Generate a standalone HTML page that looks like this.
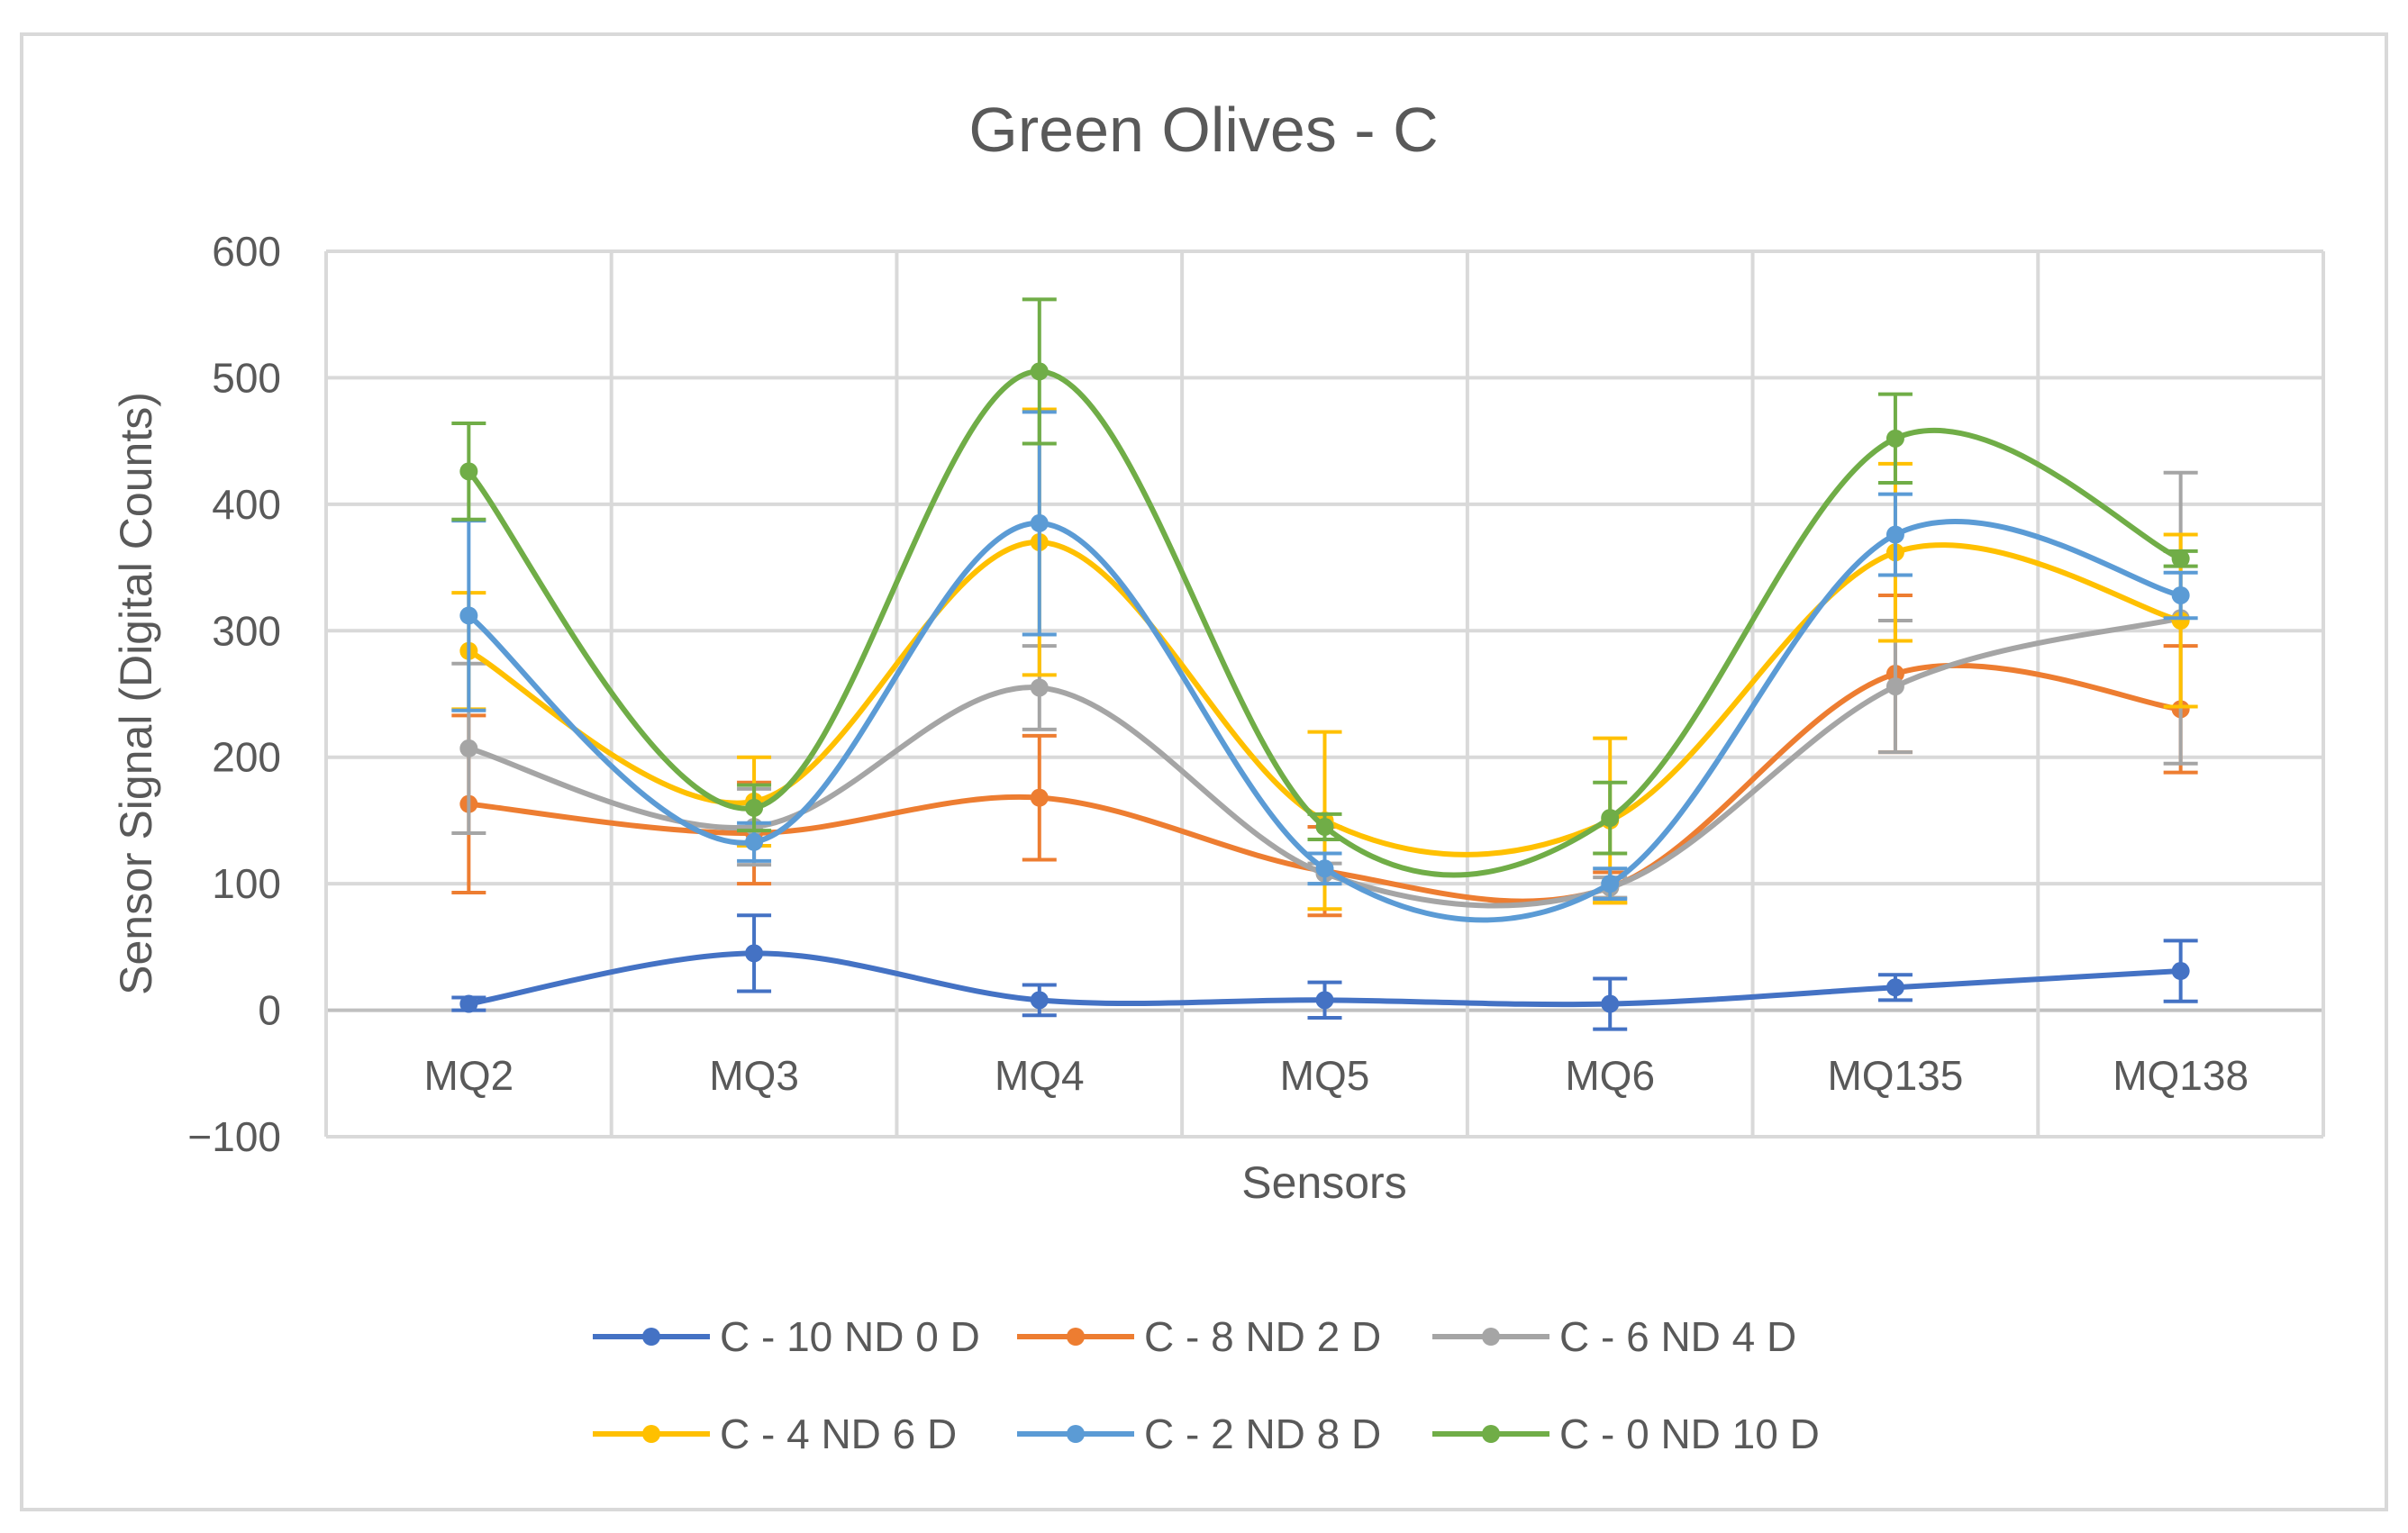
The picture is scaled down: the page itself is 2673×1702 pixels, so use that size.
<!DOCTYPE html>
<html><head><meta charset="utf-8"><style>
html,body{margin:0;padding:0;background:#fff;}
svg{display:block;font-family:"Liberation Sans",sans-serif;}
</style></head><body>
<svg id="chart" width="2673" height="1702" viewBox="0 0 2673 1702">
<rect x="24" y="38" width="2625" height="1638" fill="#fff" stroke="#d9d9d9" stroke-width="4"/>
<text x="1336" y="168" text-anchor="middle" font-size="70" fill="#595959">Green Olives - C</text>
<g id="grid"></g>
<g id="series"></g>
<text transform="translate(168,770) rotate(-90)" text-anchor="middle" font-size="50" fill="#595959">Sensor Signal (Digital Counts)</text>
<text x="1470" y="1330" text-anchor="middle" font-size="50" fill="#595959">Sensors</text>
<g id="legend"></g>
</svg>
<script>
const categories=["MQ2","MQ3","MQ4","MQ5","MQ6","MQ135","MQ138"];
const yTicks=[-100,0,100,200,300,400,500,600];
const seriesNames=["C - 10 ND 0 D","C - 8 ND 2 D","C - 6 ND 4 D","C - 4 ND 6 D","C - 2 ND 8 D","C - 0 ND 10 D"];
const colors=["#4472C4","#ED7D31","#A5A5A5","#FFC000","#5B9BD5","#70AD47"];
const s1=[5,45,8,8,5,18,31];
const s2=[163,140,168,110,97,266,238];
const s3=[207,145,255,108,97,256,310];
const s4=[284,165,370,150,150,362,308];
const s5=[312,133,385,112,100,376,328];
const s6=[426,160,505,145,152,452,357];
const e1=[5,30,12,14,20,10,24];
const e2=[70,40,49,35,12,62,50];
const e3=[67,30,33,8,8,52,115];
const e4=[46,35,105,70,65,70,68];
const e5=[75,15,88,12,12,32,18];
const e6=[38,18,57,10,28,35,6];
const values=[s1,s2,s3,s4,s5,s6];
const errors=[e1,e2,e3,e4,e5,e6];

const NS="http://www.w3.org/2000/svg";
const L=362,R=2579,T=279,B=1262,yMin=-100,yMax=600;
const band=(R-L)/categories.length;
const xs=i=>L+band*(i+0.5);
const ys=v=>B-(v-yMin)/(yMax-yMin)*(B-T);
function mk(tag,attrs,parent){const e=document.createElementNS(NS,tag);for(const k in attrs)e.setAttribute(k,attrs[k]);parent.appendChild(e);return e;}
const grid=document.getElementById('grid');
yTicks.forEach(t=>{
  const ln=mk('line',{x1:L,x2:R,y1:ys(t),y2:ys(t),stroke:t===0?'#bfbfbf':'#d9d9d9','stroke-width':4},grid);
  
  
  const tx=mk('text',{x:312,y:ys(t)+16,'text-anchor':'end','font-size':46,fill:'#595959'},grid);
  tx.textContent=t<0?'\u2212'+Math.abs(t):String(t);
  
  
});
for(let i=0;i<=categories.length;i++){
  const x=L+band*i;
  const ln=mk('line',{x1:x,x2:x,y1:T,y2:B,stroke:'#d9d9d9','stroke-width':4},grid);
  
  
}
categories.forEach((c,i)=>{
  const tx=mk('text',{x:xs(i),y:1210,'text-anchor':'middle','font-size':46,fill:'#595959'},grid);
  tx.textContent=c;
  
  
});
const sg=document.getElementById('series');
values.forEach((vals,si)=>{
  const g=mk('g',{},sg);
  
  
  const col=colors[si];
  const pts=vals.map((v,i)=>[xs(i),ys(v)]);
  let d='M'+pts[0][0]+','+pts[0][1];
  for(let i=0;i<pts.length-1;i++){
    const p0=pts[Math.max(0,i-1)],p1=pts[i],p2=pts[i+1],p3=pts[Math.min(pts.length-1,i+2)];
    const c1=[p1[0]+(p2[0]-p0[0])/6,p1[1]+(p2[1]-p0[1])/6];
    const c2=[p2[0]-(p3[0]-p1[0])/6,p2[1]-(p3[1]-p1[1])/6];
    d+=' C'+c1+' '+c2+' '+p2;
  }
  vals.forEach((v,i)=>{
    const x=xs(i),e=errors[si][i],y1=ys(v+e),y2=ys(v-e);
    const eb=mk('path',{d:`M${x},${y1}V${y2}M${x-19},${y1}H${x+19}M${x-19},${y2}H${x+19}`,stroke:col,'stroke-width':4,fill:'none'},g);
    
    
  });
  const p=mk('path',{d:d,stroke:col,'stroke-width':6,fill:'none','stroke-linecap':'round'},g);
  
  
  pts.forEach(pt=>{
    const c=mk('circle',{cx:pt[0],cy:pt[1],r:10,fill:col},g);
    
    
  });
});
const lg=document.getElementById('legend');
const lx=[658,1129,1590],ly=[1484,1592];
seriesNames.forEach((n,i)=>{
  const x=lx[i%3],y=ly[Math.floor(i/3)];
  const g=mk('g',{},lg);
  
  
  mk('line',{x1:x,x2:x+130,y1:y,y2:y,stroke:colors[i],'stroke-width':6},g);
  mk('circle',{cx:x+65,cy:y,r:10,fill:colors[i]},g);
  const t=mk('text',{x:x+141,y:y+16,'font-size':46,fill:'#595959'},g);
  t.textContent=n;
});
</script>
</body></html>
